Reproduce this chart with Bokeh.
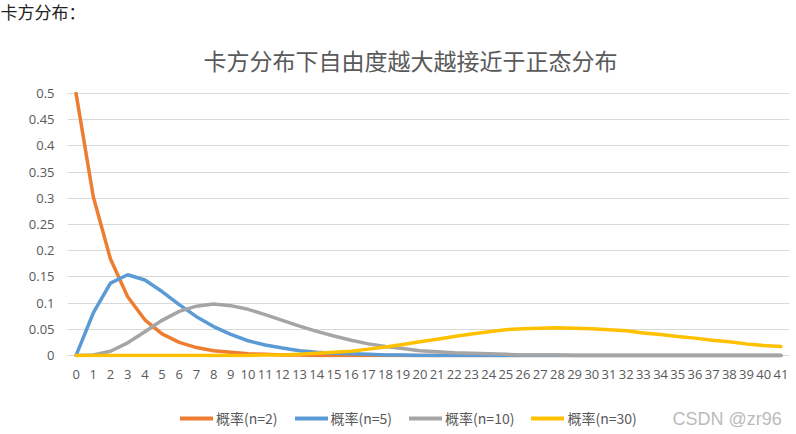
from bokeh.plotting import figure
from bokeh.layouts import column
from bokeh.models import (ColumnDataSource, FixedTicker, Range1d, Legend, LegendItem, Title, Label)
from bokeh.embed import file_html
from bokeh.resources import INLINE

# ---- data ----
degrees = list(range(42))
x_tick_labels = [str(d) for d in degrees]
y_ticks = [0, 0.05, 0.1, 0.15, 0.2, 0.25, 0.3, 0.35, 0.4, 0.45, 0.5]
y_tick_labels = ["0", "0.05", "0.1", "0.15", "0.2", "0.25", "0.3", "0.35", "0.4", "0.45", "0.5"]

p_n2 = [0.5, 0.303, 0.184, 0.112, 0.068, 0.041, 0.025, 0.015, 0.009, 0.006,
        0.003, 0.002, 0.001, 0.001, 0, 0, 0, 0, 0, 0,
        0, 0, 0, 0, 0, 0, 0, 0, 0, 0,
        0, 0, 0, 0, 0, 0, 0, 0, 0, 0,
        0, 0]
p_n5 = [0, 0.081, 0.138, 0.154, 0.144, 0.122, 0.097, 0.074, 0.055, 0.040,
        0.028, 0.020, 0.014, 0.009, 0.006, 0.004, 0.003, 0.002, 0.001, 0.001,
        0, 0, 0, 0, 0, 0, 0, 0, 0, 0,
        0, 0, 0, 0, 0, 0, 0, 0, 0, 0,
        0, 0]
p_n10 = [0, 0.001, 0.008, 0.024, 0.045, 0.067, 0.084, 0.094, 0.098, 0.095,
         0.088, 0.078, 0.067, 0.056, 0.046, 0.037, 0.029, 0.022, 0.017, 0.013,
         0.009, 0.007, 0.005, 0.004, 0.003, 0.002, 0.001, 0.001, 0.001, 0,
         0, 0, 0, 0, 0, 0, 0, 0, 0, 0,
         0, 0]
p_n30 = [0, 0, 0, 0, 0, 0, 0, 0, 0, 0,
         0, 0.001, 0.001, 0.002, 0.004, 0.006, 0.008, 0.012, 0.016, 0.021,
         0.026, 0.031, 0.036, 0.041, 0.045, 0.049, 0.051, 0.052, 0.053, 0.052,
         0.051, 0.049, 0.047, 0.043, 0.040, 0.036, 0.033, 0.029, 0.026, 0.022,
         0.019, 0.017]

series_names = ["概率(n=2)", "概率(n=5)", "概率(n=10)", "概率(n=30)"]
series_colors = ["#ED7D31", "#5B9BD5", "#A5A5A5", "#FFC000"]

page_heading = "卡方分布："
chart_title = "卡方分布下自由度越大越接近于正态分布"
watermark = "CSDN @zr96"

CJK = "Noto Sans CJK SC"
MIXED = "Liberation Sans, Noto Sans CJK SC"
TICK_COLOR = "#595959"


def blank(fig):
    fig.outline_line_color = None
    fig.xgrid.grid_line_color = None
    fig.ygrid.grid_line_color = None
    fig.background_fill_color = "white"
    fig.border_fill_color = "white"


# ---- page heading strip ----
h = figure(width=796, height=28, output_backend="svg", toolbar_location=None,
           x_axis_type=None, y_axis_type=None,
           min_border_left=67, min_border_right=7, min_border_top=0, min_border_bottom=0)
blank(h)
h.add_layout(Title(text=page_heading, align="left", offset=-67, standoff=6,
                   vertical_align="top",
                   text_font=MIXED, text_font_size="17px", text_font_style="normal",
                   text_color="#222222"), "above")

# ---- main chart ----
p = figure(width=796, height=372, output_backend="svg", toolbar_location=None,
           x_range=Range1d(-0.5, 41.5), y_range=Range1d(-0.004, 0.504),
           min_border_left=67, min_border_right=7, min_border_top=63,
           min_border_bottom=43)
p.outline_line_color = None
p.background_fill_color = "white"
p.border_fill_color = "white"

src = ColumnDataSource(dict(x=degrees, n2=p_n2, n5=p_n5, n10=p_n10, n30=p_n30))
for col, color in zip(["n2", "n5", "n10", "n30"], series_colors):
    p.line("x", col, source=src, line_color=color, line_width=3.5,
           line_join="round", line_cap="round")

p.xaxis.ticker = FixedTicker(ticks=degrees)
p.xaxis.major_label_overrides = {d: lab for d, lab in zip(degrees, x_tick_labels)}
p.yaxis.ticker = FixedTicker(ticks=y_ticks)
p.yaxis.major_label_overrides = {t: lab for t, lab in zip(y_ticks, y_tick_labels)}
for ax in (p.xaxis[0], p.yaxis[0]):
    ax.axis_line_color = None
    ax.major_tick_line_color = None
    ax.minor_tick_line_color = None
    ax.major_tick_out = 0
    ax.major_tick_in = 0
    ax.major_label_text_color = TICK_COLOR
    ax.major_label_text_font = "Open Sans"
    ax.major_label_text_font_size = "13px"
p.xaxis.major_label_standoff = 12
p.yaxis.major_label_standoff = 13

p.xgrid.grid_line_color = None
p.ygrid.ticker = FixedTicker(ticks=y_ticks)
p.ygrid.grid_line_color = "#D9D9D9"
p.ygrid.grid_line_width = 1

p.add_layout(Title(text=chart_title, align="left", offset=136, standoff=33,
                   text_font=MIXED, text_font_size="23px", text_font_style="normal",
                   text_color="#595959"), "above")

# ---- legend strip under the chart ----
q = figure(width=796, height=34, output_backend="svg", toolbar_location=None,
           x_range=Range1d(67, 789), y_range=Range1d(0, 34),
           x_axis_type=None, y_axis_type=None,
           min_border_left=67, min_border_right=7, min_border_top=0, min_border_bottom=0)
blank(q)

nan = float("nan")
legend_renderers = [q.line(x=[nan], y=[nan], line_color=c, line_width=4, line_cap="round")
                    for c in series_colors]
legend = Legend(items=[LegendItem(label=n, renderers=[r]) for n, r in zip(series_names, legend_renderers)],
                orientation="horizontal", location=(113, 6),
                padding=0, margin=0, spacing=17, label_standoff=3,
                glyph_width=33, glyph_height=16, label_height=16,
                border_line_color=None, background_fill_alpha=0,
                label_text_font=CJK, label_text_font_size="14px",
                label_text_color=TICK_COLOR)
q.add_layout(legend, "center")
q.add_layout(Label(x=672, y=16, text=watermark, text_font="Liberation Sans",
                   text_font_size="18px", text_color="#BBBBBB",
                   text_baseline="middle", text_align="left"))

open("out.html", "w").write(file_html(column(h, p, q, spacing=0), INLINE))
